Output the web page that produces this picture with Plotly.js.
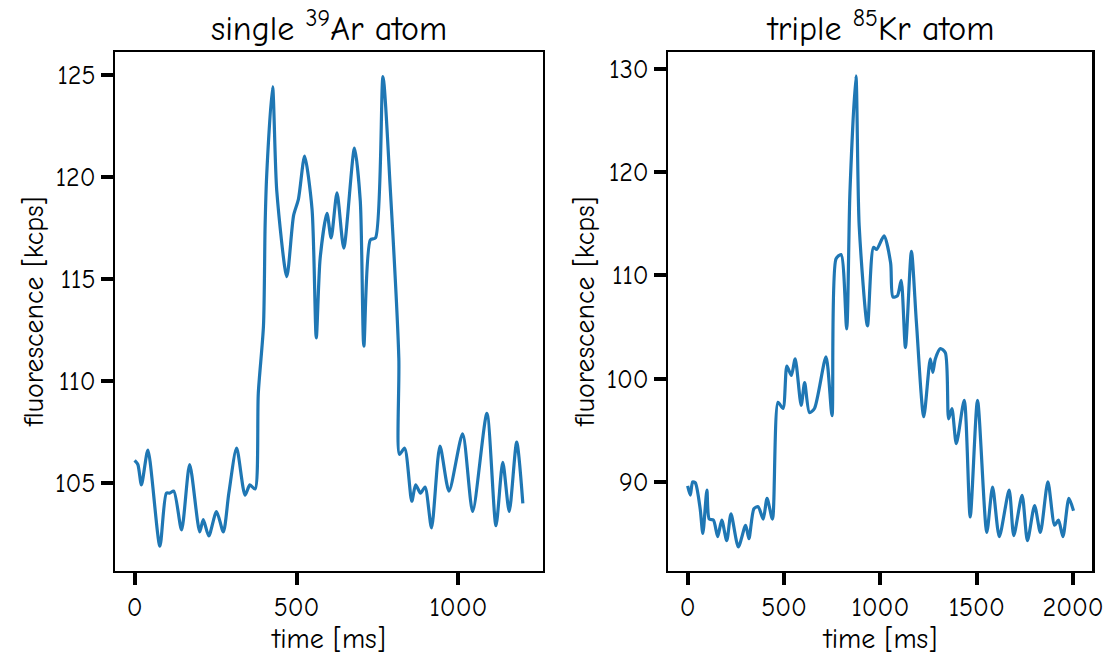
<!DOCTYPE html>
<html>
<head>
<meta charset="utf-8">
<script src="https://cdn.plot.ly/plotly-3.0.1.min.js"></script>
<style>html,body{margin:0;padding:0;background:#fff;}#chart{width:1113px;height:659px;}</style>
</head>
<body>
<div id="chart"></div>
<script>
// single 39Ar atom
const arTime = [0, 10, 21, 41, 78, 98, 108, 121, 145, 170, 201, 212, 229, 253, 274, 291, 315, 341, 356, 372, 382, 398, 403, 408, 426, 439, 470, 491, 506, 525, 548, 561, 573, 594, 607, 625, 646, 679, 697, 708, 728, 744, 767, 790, 816, 818, 834, 856, 868, 883, 897, 917, 943, 971, 1013, 1044, 1088, 1116, 1137, 1157, 1180, 1199];
const arFluor = [106.1, 105.9, 104.9, 106.6, 101.9, 104.5, 104.5, 104.6, 102.7, 105.9, 102.6, 103.2, 102.4, 103.6, 102.6, 104.5, 106.7, 104.4, 104.9, 104.7, 109.4, 112.7, 117.6, 120.1, 124.4, 119.3, 115.1, 118.1, 118.9, 121.0, 118.4, 112.1, 116.0, 118.2, 117.0, 119.2, 116.5, 121.4, 118.8, 111.7, 116.9, 117.0, 124.9, 119.3, 111.1, 106.4, 106.7, 104.1, 104.9, 104.5, 104.8, 102.8, 106.8, 104.6, 107.4, 103.6, 108.4, 102.9, 106.0, 103.6, 107.0, 104.0];

// triple 85Kr atom
const krTime = [0, 14, 26, 40, 65, 79, 100, 112, 134, 156, 177, 203, 225, 263, 301, 318, 344, 366, 392, 412, 440, 469, 495, 515, 538, 558, 589, 607, 632, 658, 718, 749, 770, 796, 825, 842, 873, 890, 933, 964, 981, 1019, 1053, 1065, 1088, 1108, 1130, 1161, 1187, 1225, 1259, 1272, 1285, 1311, 1337, 1354, 1371, 1394, 1435, 1466, 1504, 1552, 1582, 1617, 1668, 1692, 1735, 1763, 1800, 1830, 1869, 1904, 1924, 1947, 1978, 2002];
const krFluor = [89.6, 88.7, 90.0, 89.9, 87.4, 85.0, 89.2, 86.4, 86.3, 84.7, 86.3, 84.3, 86.9, 83.7, 85.8, 84.5, 87.4, 87.6, 86.4, 88.4, 86.4, 97.7, 97.1, 101.2, 100.3, 101.9, 97.4, 99.6, 96.7, 97.1, 102.1, 96.4, 111.6, 112.0, 104.8, 118.0, 129.3, 114.8, 105.1, 112.7, 112.5, 113.8, 111.2, 107.9, 108.0, 109.5, 103.0, 112.3, 105.4, 96.3, 101.9, 100.6, 101.9, 102.9, 102.5, 96.1, 97.1, 93.7, 97.9, 86.6, 97.9, 85.1, 89.5, 84.7, 89.2, 84.8, 88.7, 84.3, 87.7, 85.1, 90.0, 85.8, 86.3, 84.7, 88.4, 87.2];

const arYTicks = [105, 110, 115, 120, 125];
const krYTicks = [90, 100, 110, 120, 130];
const arXTicks = [0, 500, 1000];
const krXTicks = [0, 500, 1000, 1500, 2000];

const FONT = "'Comic Neue', 'Comic Sans MS', 'Open Sans', sans-serif";
const BLUE = '#1f77b4';

const lineStyle = {color: BLUE, width: 3.2, shape: 'spline', smoothing: 0.7};

const traces = [
  {x: arTime, y: arFluor, type: 'scatter', mode: 'lines', line: lineStyle, xaxis: 'x', yaxis: 'y', hoverinfo: 'skip'},
  {x: krTime, y: krFluor, type: 'scatter', mode: 'lines', line: lineStyle, xaxis: 'x2', yaxis: 'y2', hoverinfo: 'skip'}
];

function xax(domain, range, ticks, anchor) {
  return {
    domain: domain, range: range, anchor: anchor,
    tickvals: ticks, ticktext: ticks.map(String),
    ticks: 'outside', ticklen: 12, tickwidth: 4, tickcolor: '#000',
    showline: true, linecolor: '#000', linewidth: 2.5, mirror: true,
    showgrid: false, zeroline: false,
    tickfont: {family: FONT, size: 26, color: '#000'},
    title: {text: 'time [ms]', font: {family: FONT, size: 28, color: '#000'}, standoff: 4}
  };
}
function yax(domain, range, ticks, anchor) {
  return {
    domain: domain, range: range, anchor: anchor,
    tickvals: ticks, ticktext: ticks.map(String),
    ticks: 'outside', ticklen: 12, tickwidth: 4, tickcolor: '#000',
    showline: true, linecolor: '#000', linewidth: 2.5, mirror: true,
    showgrid: false, zeroline: false,
    tickfont: {family: FONT, size: 26, color: '#000'},
    title: {text: 'fluorescence [kcps]', font: {family: FONT, size: 28, color: '#000'}, standoff: 4}
  };
}

const yDom = [0.134, 0.921];
const layout = {
  width: 1113, height: 659,
  margin: {l: 0, r: 0, t: 0, b: 0},
  paper_bgcolor: '#fff', plot_bgcolor: '#fff',
  showlegend: false,
  font: {family: FONT, color: '#000'},
  xaxis: xax([0.1035, 0.4875], [-60, 1260], arXTicks, 'y'),
  yaxis: yax(yDom, [100.7, 126.1], arYTicks, 'x'),
  xaxis2: xax([0.6005, 0.9815], [-100, 2100], krXTicks, 'y2'),
  yaxis2: yax(yDom, [81.4, 131.6], krYTicks, 'x2'),
  annotations: [
    {text: 'single <sup>39</sup>Ar atom', xref: 'paper', yref: 'paper', x: 0.2955, y: 0.922, xanchor: 'center', yanchor: 'bottom', showarrow: false, font: {family: FONT, size: 34, color: '#000'}},
    {text: 'triple <sup>85</sup>Kr atom', xref: 'paper', yref: 'paper', x: 0.791, y: 0.922, xanchor: 'center', yanchor: 'bottom', showarrow: false, font: {family: FONT, size: 34, color: '#000'}}
  ]
};

Plotly.newPlot('chart', traces, layout, {displayModeBar: false, staticPlot: true});
</script>
</body>
</html>
